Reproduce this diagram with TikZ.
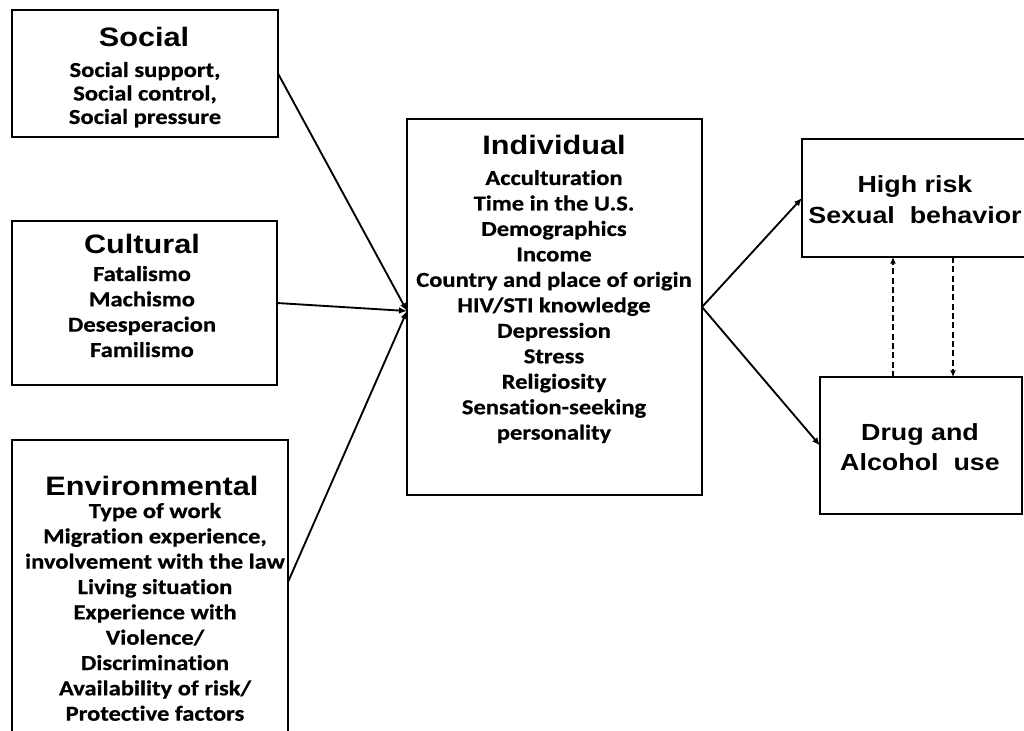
\documentclass[tikz,border=0pt]{standalone}
\usepackage{fontspec}
\usetikzlibrary{arrows.meta}
\newfontfamily\hfont{Liberation Sans}[FakeStretch=1.15]
\newfontfamily\ifont{Carlito}[FakeStretch=1.15, Ligatures=NoCommon, BoldFeatures={FakeBold=0.6}]
\newcommand\mylines[1]{\begin{tabular}[t]{@{}c@{}}#1\end{tabular}}
\begin{document}
\begin{tikzpicture}[x=0.75pt,y=-0.75pt,
  box/.style={draw, line width=1.8pt, inner sep=0pt, outer sep=0pt, anchor=north west},
  head/.style={font=\hfont\bfseries\fontsize{20}{24}\selectfont, inner sep=0pt, anchor=base},
  items/.style={font=\ifont\bfseries\fontsize{16}{19}\selectfont, inner sep=0pt, anchor=base},
  outcome/.style={font=\hfont\bfseries\fontsize{17.5}{22.5}\selectfont, inner sep=0pt, anchor=base},
  arr/.style={line width=1.4pt, -{Latex[length=6pt,width=5pt]}},
  darr/.style={line width=1.3pt, dash pattern=on 4.5pt off 2.5pt, -{Latex[length=5pt,width=4.5pt]}}]
\useasboundingbox[fill=white] (0,0) rectangle (1024,731);
% boxes
\node[box, minimum width=199.5pt, minimum height=95.25pt] (social) at (12,10) {};
\node[box, minimum width=198.75pt, minimum height=123pt] (cultural) at (12,221) {};
\node[box, minimum width=207pt, minimum height=240pt] (env) at (12,440) {};
\node[box, minimum width=221.25pt, minimum height=282pt] (ind) at (407,119) {};
\node[box, minimum width=180pt, minimum height=88.5pt] (hr) at (802,139) {};
\node[box, minimum width=151.5pt, minimum height=102.75pt] (drug) at (820,377) {};
% texts
\node[head] (socialh) at (144,47) {Social};
\node[items, font=\ifont\bfseries\fontsize{16}{17.6}\selectfont] (sociali) at (145,77) {\mylines{Social support,\\Social control,\\Social pressure}};
\node[head] (culturalh) at (142,253) {Cultural};
\node[items] (culturali) at (142,281) {\mylines{Fatalismo\\Machismo\\Desesperacion\\Familismo}};
\node[head] (envh) at (152,495) {Environmental};
\node[items] (envi) at (155,518) {\mylines{Type of work\\Migration experience,\\involvement with the law\\Living situation\\Experience with\\Violence/\\Discrimination\\Availability of risk/\\Protective factors}};
\node[head] (indh) at (554,155) {Individual};
\node[items, font=\ifont\bfseries\fontsize{16}{19.1}\selectfont] (indi) at (554,185) {\mylines{Acculturation\\Time in the U.S.\\Demographics\\Income\\Country and place of origin\\HIV/STI knowledge\\Depression\\Stress\\Religiosity\\Sensation-seeking\\personality}};
\node[outcome] (hrt) at (915,193) {\mylines{High risk\\Sexual\ \ behavior}};
\node[outcome] (drugt) at (920,440) {\mylines{Drug and\\Alcohol\ \ use}};
% connectors
\coordinate (indin) at (407,311);
\coordinate (envout) at (288,582);
\coordinate (upx) at (893,0);
\coordinate (downx) at (953,0);
\draw[arr] (social.east) -- (indin);
\draw[arr] (cultural.east) -- (indin);
\draw[arr] (envout) -- (indin);
\draw[arr] (ind.east) -- (hr.west);
\draw[arr] (ind.east) -- (drug.west);
\draw[darr] (drug.north -| upx) -- (hr.south -| upx);
\draw[darr] (hr.south -| downx) -- (drug.north -| downx);
\end{tikzpicture}
\end{document}
